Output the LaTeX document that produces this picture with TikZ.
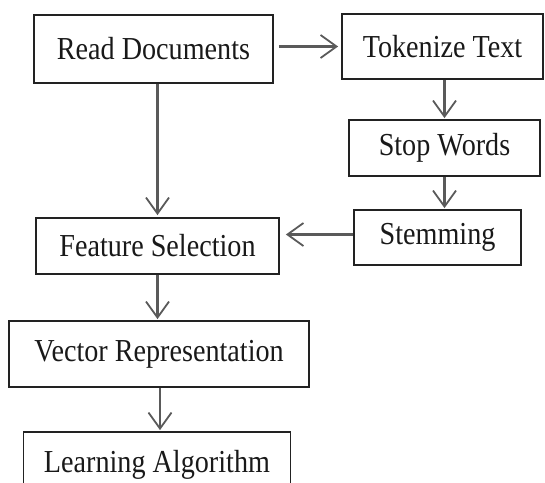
\documentclass[tikz,border=0pt]{standalone}
\usepackage{fontspec}
\setmainfont[FakeStretch=0.88]{Liberation Serif}
\usetikzlibrary{arrows.meta}
\definecolor{boxline}{HTML}{222222}
\definecolor{arrline}{HTML}{5A5A5A}
\begin{document}
\begin{tikzpicture}[x=1pt,y=-1pt,
  box/.style={draw=boxline,line width=1.8pt,inner sep=0pt,font=\fontsize{32}{36}\selectfont,text=black!90},
  arr/.style={draw=arrline,line width=2.2pt,-{Straight Barb[length=16pt,width=23pt,line width=1.8pt]}}]
\useasboundingbox (0,0) rectangle (545,482);
\clip (0,0) rectangle (545,482);
\node[box,minimum width=239pt,minimum height=68pt] (read) at (153.5,49) {Read Documents};
\node[box,minimum width=201pt,minimum height=65pt] (token) at (442.5,46.5) {Tokenize Text};
\node[box,minimum width=191pt,minimum height=56pt] (stop) at (444.5,148) {Stop Words};
\node[box,minimum width=167pt,minimum height=55pt] (stem) at (437.5,237.5) {Stemming};
\node[box,minimum width=243pt,minimum height=56pt] (feat) at (157.5,246) {Feature Selection};
\node[box,minimum width=300pt,minimum height=66pt] (vec) at (159,354) {Vector Representation};
\node[box,minimum width=267pt,minimum height=66pt] (learn) at (157,465) {Learning Algorithm};
\draw[arr,shorten <=5pt,shorten >=3pt] (read.east |- token.west) -- (token.west);
\draw[arr,shorten >=2pt] (read.south -| feat.north) -- (feat.north);
\draw[arr,shorten >=1pt] (token.south -| stop.north) -- (stop.north);
\draw[arr,shorten >=1pt] (stop.south) -- (stop.south |- stem.north);
\draw[arr,shorten >=6pt] ([yshift=3pt]stem.west) -- ([yshift=3pt]stem.west -| feat.east);
\draw[arr,shorten >=1pt] (feat.south) -- (feat.south |- vec.north);
\draw[arr,shorten >=1pt] ([xshift=1pt]vec.south) -- ([xshift=1pt]vec.south |- learn.north);
\end{tikzpicture}
\end{document}
